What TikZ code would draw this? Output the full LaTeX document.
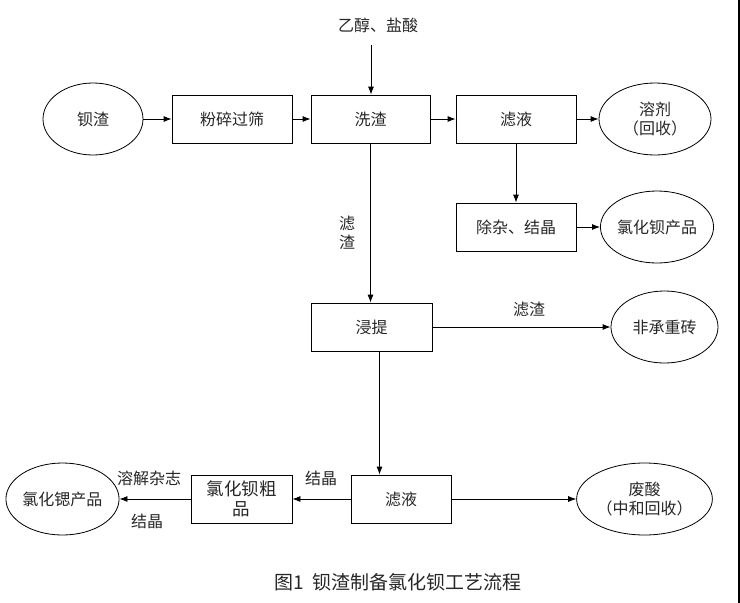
\documentclass[tikz,border=0pt]{standalone}
\usepackage{fontspec}
\newfontfamily\cjk{Noto Sans CJK SC}
\usetikzlibrary{shapes.geometric,arrows.meta}
\begin{document}
\begin{tikzpicture}[x=1pt,y=-1pt,
  every node/.style={font=\cjk\fontsize{16}{19}\selectfont, text=black!85},
  proc/.style={draw, line width=0.8pt, minimum height=48pt, inner sep=0pt, align=center},
  oval/.style={draw, line width=0.8pt, ellipse, minimum height=72pt, inner sep=0pt, align=center},
  lbl/.style={inner sep=0pt, align=center},
  arr/.style={line width=0.8pt, -{Latex[length=8pt,width=6pt]}}]
\useasboundingbox (0,0) rectangle (740,603);
% nodes
\node[lbl] (acid) at (378,25) {乙醇、盐酸};
\node[oval, minimum width=100pt] (bz) at (93,119) {钡渣};
\node[proc, minimum width=120pt] (fs) at (232,119) {粉碎过筛};
\node[proc, minimum width=119pt] (xz) at (370.5,119) {洗渣};
\node[proc, minimum width=120pt] (ly) at (516,119) {滤液};
\node[oval, minimum width=112pt] (rj) at (655,119) {溶剂\\（回收）};
\node[proc, minimum width=120pt] (cz) at (516,227) {除杂、结晶};
\node[oval, minimum width=108pt] (bp) at (657,227) {氯化钡产品};
\node[proc, minimum width=121pt] (jt) at (371.5,327) {浸提};
\node[oval, minimum width=107pt] (fz) at (664.5,327) {非承重砖};
\node[proc, minimum width=100pt] (ly2) at (401,499) {滤液};
\node[oval, minimum width=133pt] (fs2) at (644.5,499) {废酸\\（中和回收）};
\node[proc, minimum width=101pt, font=\cjk\fontsize{17.5}{20}\selectfont] (cp) at (241.5,499) {氯化钡粗\\品};
\node[oval, minimum width=107pt] (sr) at (62.5,499) {氯化锶产品};
% labels
\node[lbl] (l1) at (347,233) {滤\\渣};
\node[lbl] (l2) at (529,309) {滤渣};
\node[lbl] (l3) at (321,478) {结晶};
\node[lbl] (l4) at (149,478) {溶解杂志};
\node[lbl] (l5) at (147,521) {结晶};
\node[lbl, font=\cjk\fontsize{19}{22}\selectfont] (cap) at (398,582) {图1\ \ 钡渣制备氯化钡工艺流程};
% connectors
\coordinate (acidend) at (371,45);
\draw[arr] (acidend) -- (acidend |- xz.north);
\draw[arr] (bz) -- (fs);
\draw[arr] (fs) -- (xz);
\draw[arr] (xz) -- (ly);
\draw[arr] (ly) -- (rj);
\draw[arr] (ly) -- (cz);
\draw[arr] (cz) -- (bp);
\draw[arr] (xz.south) -- (xz.south |- jt.north);
\draw[arr] (jt) -- (fz);
\draw[arr] ([xshift=8pt]jt.south) -- ([xshift=8pt]jt.south |- ly2.north);
\draw[arr] (ly2) -- (fs2);
\draw[arr] (ly2) -- (cp);
\draw[arr] (cp) -- (sr);
% right edge line
\draw[line width=1.5pt] (739.2,0) -- (739.2,603);
\end{tikzpicture}
\end{document}
